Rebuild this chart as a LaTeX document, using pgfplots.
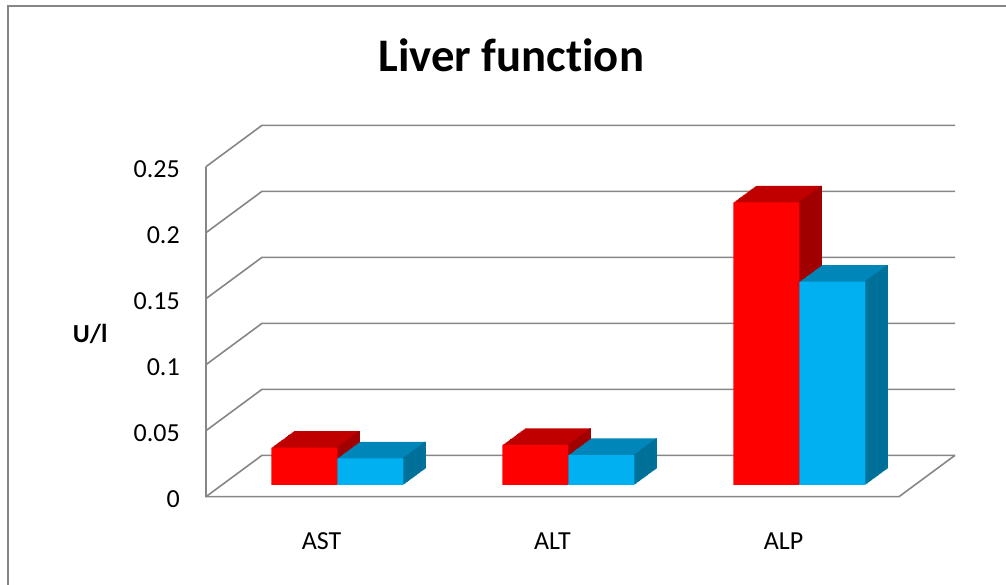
\documentclass[border=0pt]{standalone}
\usepackage{pgfplots}
\pgfplotsset{compat=1.18}
\usepackage{pgfplotstable}
\usepackage{fontspec}
\setmainfont{Carlito}[Ligatures={NoCommon}]

\definecolor{gridgray}{RGB}{134,134,134}
\definecolor{redfront}{RGB}{255,0,0}
\definecolor{redtop}{RGB}{192,0,0}
\definecolor{redside}{RGB}{160,0,0}
\definecolor{bluefront}{RGB}{0,176,240}
\definecolor{bluetop}{RGB}{0,134,184}
\definecolor{blueside}{RGB}{0,112,153}

\pgfplotstableread{
x v
0 0.0283
1 0.0303
2 0.2141
}\redtab
\pgfplotstableread{
x v
0 0.0202
1 0.0227
2 0.1540
}\bluetab

\begin{document}
\begin{tikzpicture}
\useasboundingbox (-154.5pt,-66.2pt) rectangle (600pt,372.5pt);
\draw[gridgray, line width=1.6pt] (-148.3pt,-90pt) -- (-148.3pt,368pt) -- (640pt,368pt);
\begin{axis}[
  at={(0,0)}, anchor=south west,
  scale only axis, width=519.75pt, height=247.5pt,
  xmin=-0.5, xmax=2.5, ymin=0, ymax=0.25,
  clip=false,
  axis line style={draw=none},
  major tick style={draw=none},
  xtick={0,1,2}, xticklabels={AST,ALT,ALP},
  ytick={0,0.05,0.1,0.15,0.2,0.25},
  /pgf/number format/assume math mode=true,
  /pgf/number format/fixed,
  tick label style={font=\fontsize{19.5}{23}\selectfont},
  xticklabel style={anchor=north, inner sep=0pt, yshift=-27pt},
  yticklabel style={anchor=east, inner sep=0pt, xshift=-19.5pt, yshift=-2pt},
  ylabel={U/l},
  every axis y label/.style={at={(rel axis cs:0,0)}, anchor=base, xshift=-86.8pt, yshift=115.8pt, font=\bfseries\fontsize{19.5}{23}\selectfont},
  title={Liver function},
  every axis title/.style={at={(rel axis cs:0,0)}, anchor=base, xshift=229pt, yshift=318.75pt, font=\bfseries\fontsize{35}{42}\selectfont},
]
% walls and floor
\pgfplotsinvokeforeach{0,0.05,0.1,0.15,0.2,0.25}{
  \draw[gridgray, line width=1.2pt] (axis cs:-0.5,#1) -- ([shift={(42pt,31pt)}]axis cs:-0.5,#1) -- ([shift={(42pt,31pt)}]axis cs:2.5,#1);
}
\draw[gridgray, line width=1.2pt] (axis cs:-0.5,0.25) -- (axis cs:-0.5,0) -- (axis cs:2.5,0) -- ([shift={(42pt,31pt)}]axis cs:2.5,0);

% red series
\pgfplotsinvokeforeach{1,...,20}{
  \addplot[ybar, bar width=0.2857, bar shift=-0.14285, fill=redtop, draw=none,
    xshift={11.9pt+#1*0.84pt}, yshift={8.77pt+#1*0.62pt}] table[x=x,y=v]{\redtab};
}
\pgfplotsinvokeforeach{1,...,20}{
  \addplot[ybar, bar width=0.006, bar shift=-0.003, fill=redside, draw=none,
    xshift={11.9pt+#1*0.84pt}, yshift={8.77pt+#1*0.62pt}] table[x=x,y=v]{\redtab};
}
\addplot[ybar, bar width=0.2857, bar shift=-0.14285, fill=redfront, draw=none,
  xshift=11.9pt, yshift=8.77pt] table[x=x,y=v]{\redtab};

% blue series
\pgfplotsinvokeforeach{1,...,20}{
  \addplot[ybar, bar width=0.2857, bar shift=0.14285, fill=bluetop, draw=none,
    xshift={11.9pt+#1*0.84pt}, yshift={8.77pt+#1*0.62pt}] table[x=x,y=v]{\bluetab};
}
\pgfplotsinvokeforeach{1,...,20}{
  \addplot[ybar, bar width=0.006, bar shift=0.2827, fill=blueside, draw=none,
    xshift={11.9pt+#1*0.84pt}, yshift={8.77pt+#1*0.62pt}] table[x=x,y=v]{\bluetab};
}
\addplot[ybar, bar width=0.2857, bar shift=0.14285, fill=bluefront, draw=none,
  xshift=11.9pt, yshift=8.77pt] table[x=x,y=v]{\bluetab};
\end{axis}
\end{tikzpicture}
\end{document}
